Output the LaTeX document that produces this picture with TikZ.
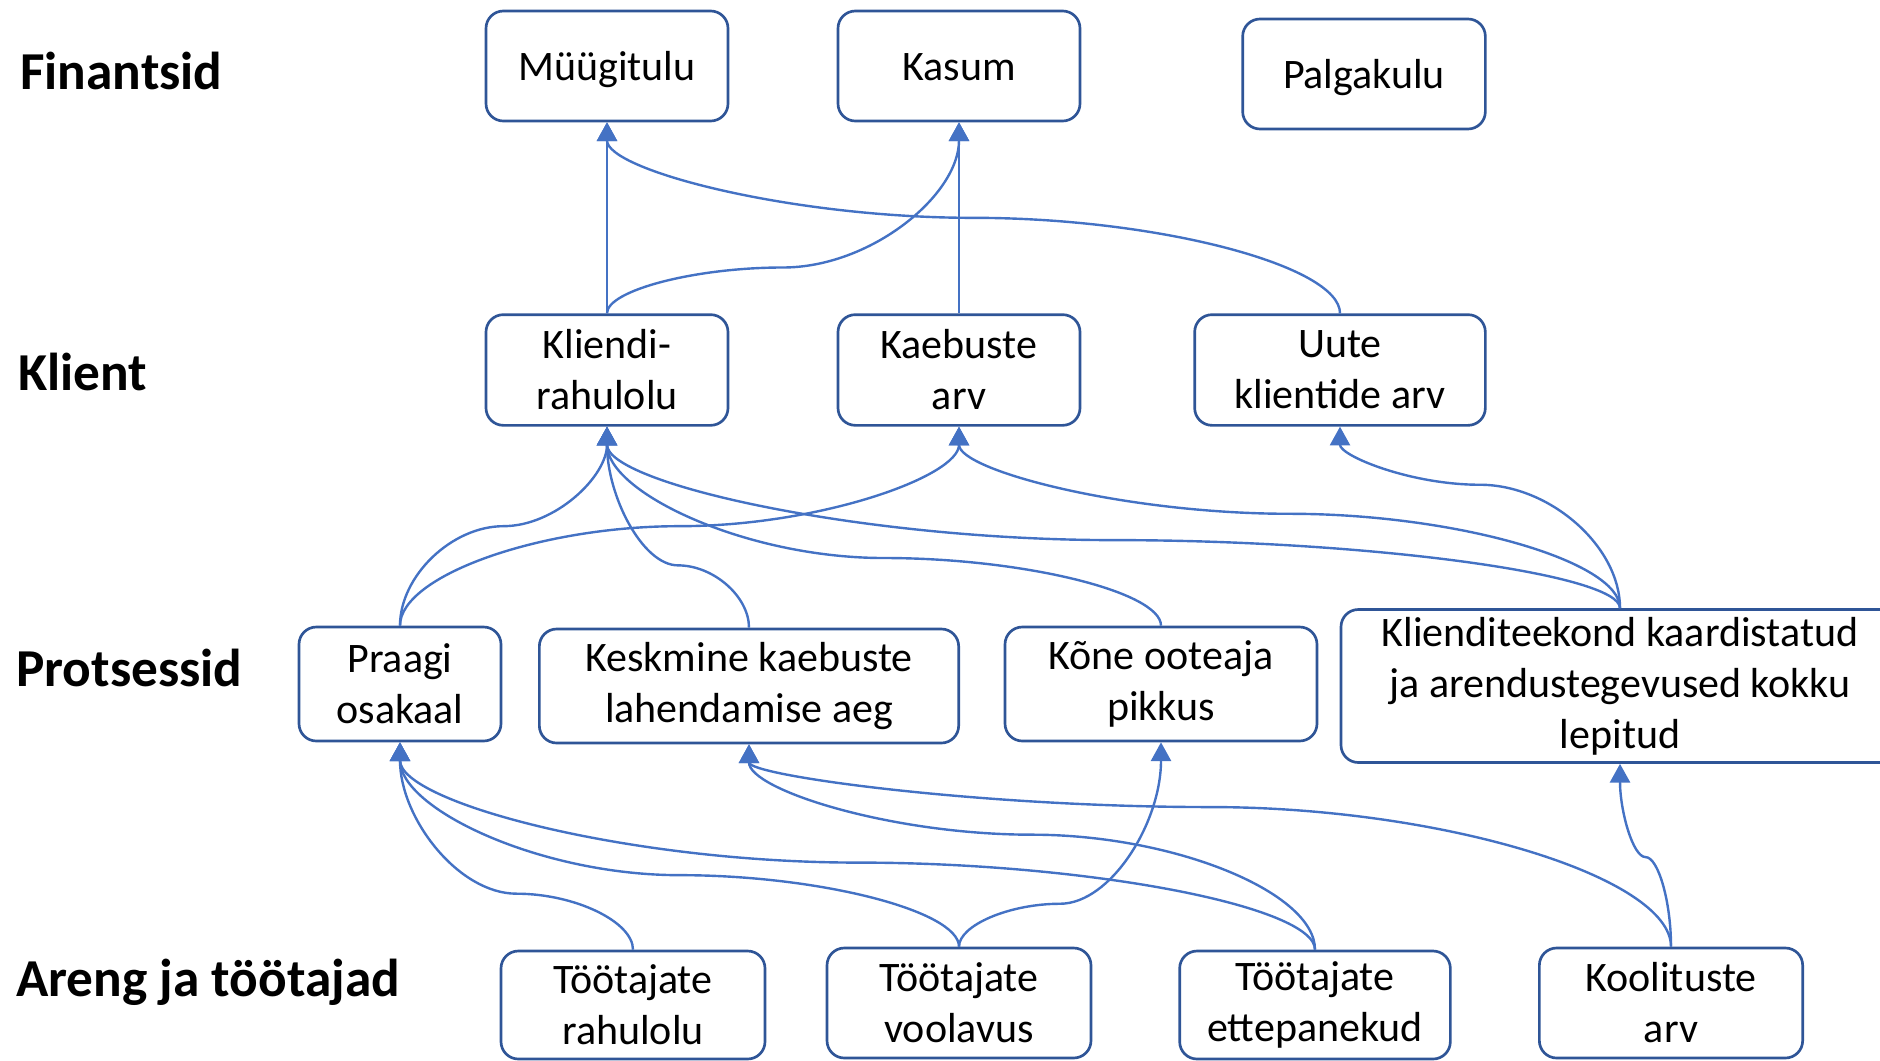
\documentclass[tikz,border=0pt]{standalone}
\usepackage{fontspec}
\setmainfont{Carlito}
\usetikzlibrary{calc,arrows.meta}
\definecolor{boxblue}{HTML}{2F5597}
\definecolor{lineblue}{HTML}{4472C4}
\tikzset{
  box/.style={draw=boxblue, line width=2pt, rounded corners=13pt, align=center,
    font=\fontsize{31.5}{38.2}\selectfont, inner sep=0pt, fill=white},
  onebox/.style={box, text height=25pt, text depth=3pt},
  lbl/.style={anchor=west, inner sep=0pt, font=\fontsize{40}{46}\selectfont\bfseries},
  conn/.style={draw=lineblue, line width=1.8pt, -{Triangle[width=15pt,length=14pt]}},
  cc/.style={to path={let \p1=(\tikztostart), \p2=(\tikztotarget), \n1={#1} in
     .. controls (\x1,{\y1+\n1*(\y2-\y1)/2}) and ({\x1+(\x2-\x1)/4},{\y1+\n1*(\y2-\y1)}) .. ({(\x1+\x2)/2},{\y1+\n1*(\y2-\y1)})
     .. controls ({\x1+3*(\x2-\x1)/4},{\y1+\n1*(\y2-\y1)}) and (\x2,{\y1+(1+\n1)*(\y2-\y1)/2}) .. (\x2,\y2) \tikztonodes}},
}
\begin{document}
\begin{tikzpicture}[x=0.75pt,y=-0.75pt]
\useasboundingbox (0,0) rectangle (1880,1060);
% row labels
\node[lbl] (lf) at (20,71) {Finantsid};
\node[lbl] (lk) at (18,372) {Klient};
\node[lbl] (lp) at (16,668) {Protsessid};
\node[lbl] (la) at (16,982) {Areng ja töötajad};
% Finantsid
\node[onebox, minimum width=181.5pt, minimum height=82.5pt] (mt) at (607,66) {Müügitulu};
\node[onebox, minimum width=181.5pt, minimum height=82.5pt] (ka) at (959,66) {Kasum};
\node[onebox, minimum width=182pt, minimum height=82.5pt] (pk) at (1364,74) {Palgakulu};
% Klient
\node[box, minimum width=181.5pt, minimum height=83pt] (kr) at (607,370) {Kliendi-\\rahulolu};
\node[box, minimum width=181.5pt, minimum height=83pt] (kb) at (959,370) {Kaebuste\\arv};
\node[box, minimum width=218pt, minimum height=83pt] (uk) at (1340,370) {Uute\\klientide arv};
% Protsessid
\node[box, minimum width=151.5pt, minimum height=85.5pt] (po) at (400,684) {Praagi\\osakaal};
\node[box, minimum width=314.5pt, minimum height=85.5pt] (kk) at (749,686) {Keskmine kaebuste\\lahendamise aeg};
\node[box, minimum width=234pt, minimum height=85.5pt] (ko) at (1161,684) {Kõne ooteaja\\pikkus};
\node[box, minimum width=418.5pt, minimum height=114.75pt] (ke) at (1620,686) {Klienditeekond kaardistatud\\ja arendustegevused kokku\\lepitud};
% Areng ja töötajad
\node[box, minimum width=198pt, minimum height=81pt] (tr) at (633,1005) {Töötajate\\rahulolu};
\node[box, minimum width=198pt, minimum height=82.5pt] (tv) at (959,1003) {Töötajate\\voolavus};
\node[box, minimum width=203pt, minimum height=81pt] (te) at (1315,1005) {Töötajate\\ettepanekud};
\node[box, minimum width=197.5pt, minimum height=82.5pt] (kl) at (1671,1003) {Koolituste\\arv};
% Klient -> Finantsid
\draw[conn] (kr.north) -- (mt.south);
\draw[conn] (kr.north) to[cc=0.24] (ka.south);
\draw[conn] (kb.north) -- (ka.south);
\draw[conn] (uk.north) to[cc=0.5] (mt.south);
% Protsessid -> Klient
\draw[conn] (po.north) to[cc=0.5] (kr.south);
\draw[conn] (po.north) to[cc=0.5] (kb.south);
\draw[conn] (kk.north) to[cc=0.31] (kr.south);
\draw[conn] (ko.north) to[cc=0.34] (kr.south);
\draw[conn] (ke.north) to[cc=0.375] (kr.south);
\draw[conn] (ke.north) to[cc=0.52] (kb.south);
\draw[conn] (ke.north) to[cc=0.68] (uk.south);
% Areng -> Protsessid
\draw[conn] (tr.north) to[cc=0.27] (po.south);
\draw[conn] (tv.north) to[cc=0.35] (po.south);
\draw[conn] (tv.north) to[cc=0.21] (ko.south);
\draw[conn] (te.north) to[cc=0.42] (po.south);
\draw[conn] (te.north) to[cc=0.56] (kk.south);
\draw[conn] (kl.north) to[cc=0.69] (kk.south);
\draw[conn] (kl.north) to[cc=0.49] (ke.south);
\end{tikzpicture}
\end{document}
